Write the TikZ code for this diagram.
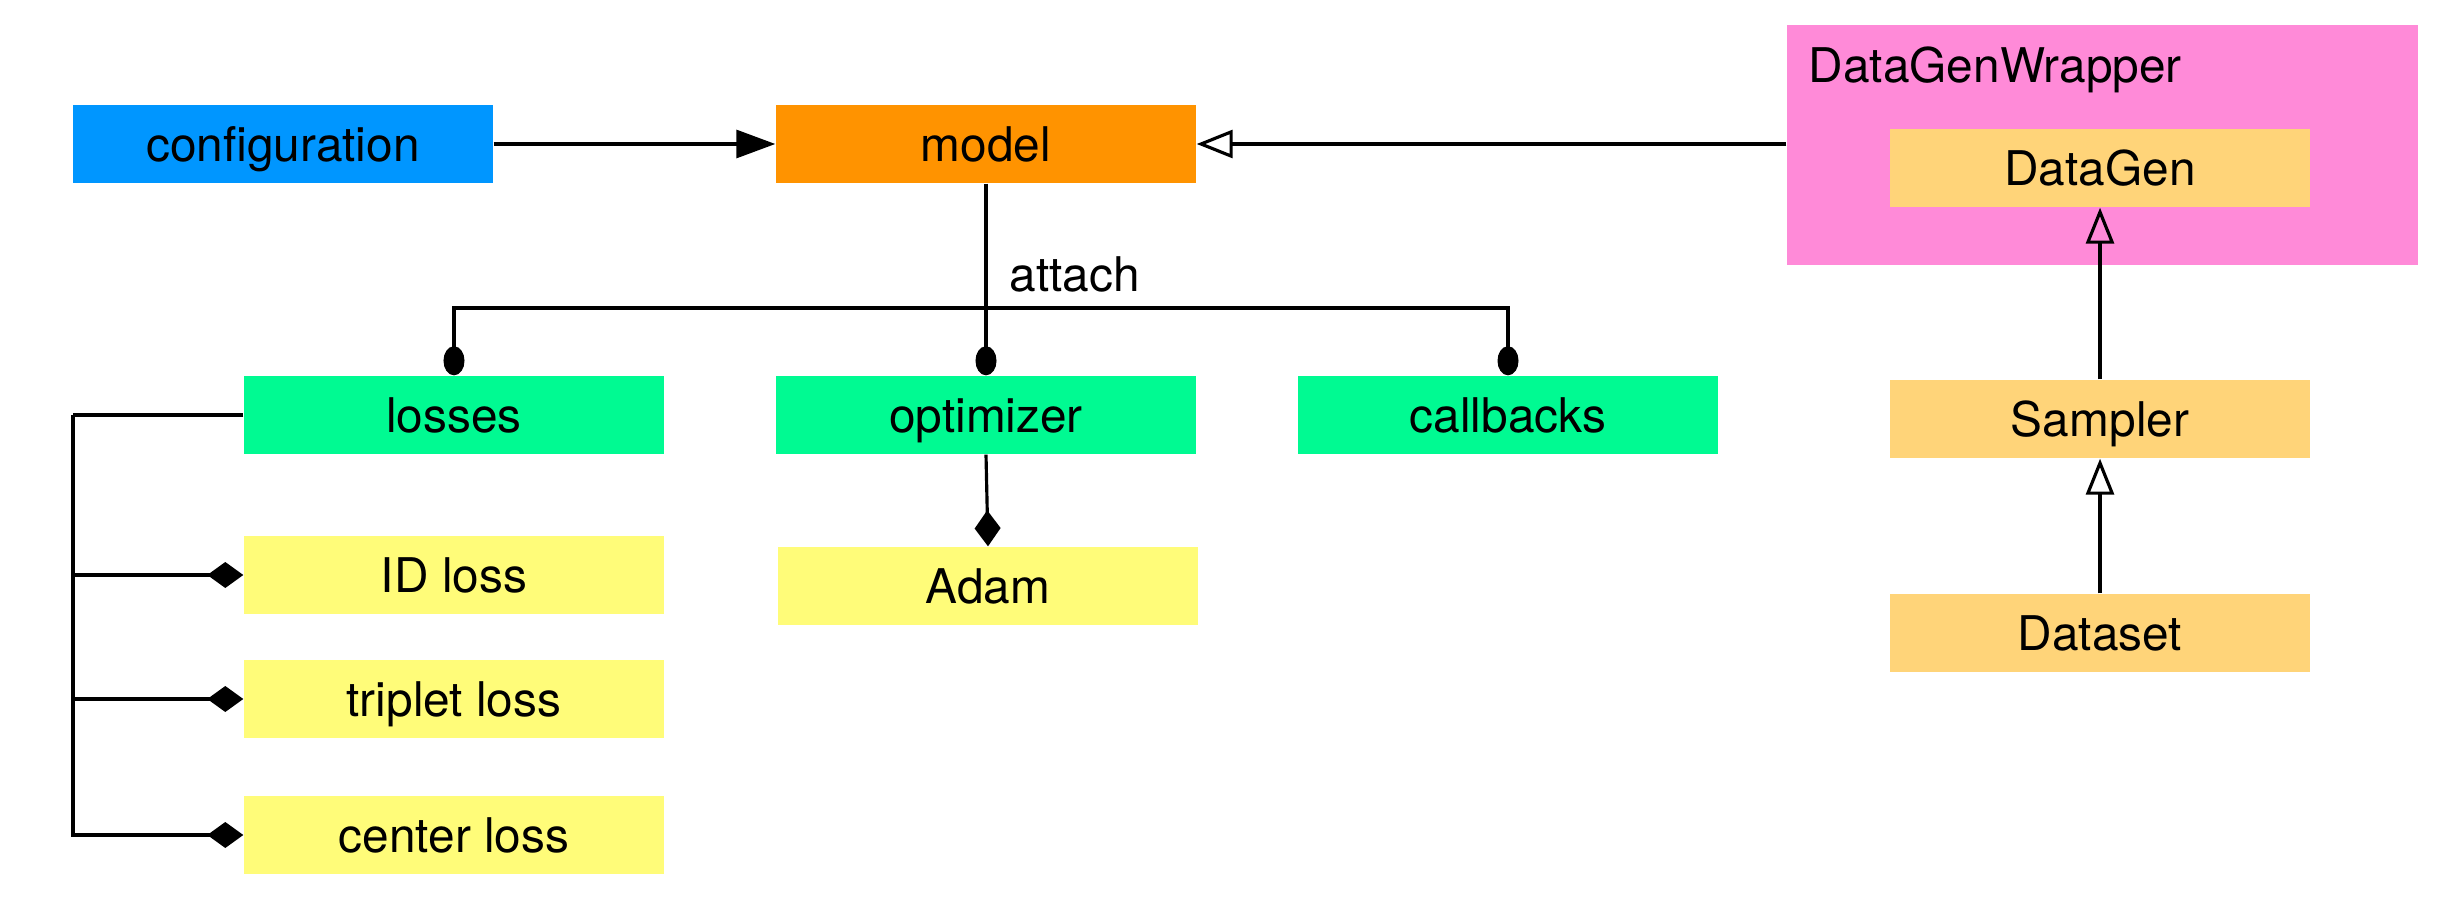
\documentclass[tikz,border=0pt]{standalone}
\usepackage{fontspec}
\setmainfont{TeX Gyre Heros}
\usepackage{tikz}
\usetikzlibrary{positioning}
\usetikzlibrary{arrows.meta}
\usepackage{xcolor}
\definecolor{aqua}{HTML}{0096FF}
\definecolor{tangerine}{HTML}{FF9300}
\definecolor{seafoam}{HTML}{00FA92}
\definecolor{banana}{HTML}{FFFC79}
\definecolor{cantaloupe}{HTML}{FFD479}
\definecolor{carnation}{HTML}{FF8AD8}
\tikzset{
  box/.style={minimum width=4.2cm, minimum height=0.78cm, inner sep=0pt, text height=9.8pt, text depth=0pt, font=\fontsize{13.6}{16}\selectfont},
  link/.style={black, line width=0.9pt},
  uses/.style={link, -{Triangle[length=3.9mm,width=2.8mm]}},
  inherit/.style={link, -{Triangle[open,length=3.6mm,width=2.8mm]}},
  composed/.style={link, -{Diamond[length=3.6mm,width=2.6mm]}},
  attached/.style={link, {Ellipse[length=2.9mm,width=2.1mm]}-{Ellipse[length=2.9mm,width=2.1mm]}},
}

\begin{document}
\begin{tikzpicture}
  \useasboundingbox (0,0) rectangle (24.48,-9.04);

  \node[box, fill=aqua] (configuration) at (2.83,-1.44) {configuration};
  \node[box, fill=tangerine] (model) at (9.86,-1.44) {model};

  \node[fill=carnation, minimum width=6.31cm, minimum height=2.40cm, inner sep=0pt] (wrapper) at (21.025,-1.45) {};
  \node[anchor=west, inner sep=0pt, font=\fontsize{13.6}{16}\selectfont] (wrappername) at (18.08,-0.70) {DataGenWrapper};
  \node[box, fill=cantaloupe] (datagen) at (21.0,-1.68) {DataGen};
  \node[box, fill=cantaloupe] (sampler) at (21.0,-4.19) {Sampler};
  \node[box, fill=cantaloupe] (dataset) at (21.0,-6.33) {Dataset};

  \node[box, fill=seafoam] (losses) at (4.54,-4.15) {losses};
  \node[box, fill=seafoam] (optimizer) at (9.86,-4.15) {optimizer};
  \node[box, fill=seafoam] (callbacks) at (15.08,-4.15) {callbacks};

  \node[box, fill=banana] (idloss) at (4.54,-5.75) {ID loss};
  \node[box, fill=banana] (tripletloss) at (4.54,-6.99) {triplet loss};
  \node[box, fill=banana] (centerloss) at (4.54,-8.35) {center loss};
  \node[box, fill=banana] (adam) at (9.88,-5.86) {Adam};

  \draw[uses] (configuration) -- (model);
  \draw[inherit] (wrapper.west |- model.east) -- (model.east);
  \draw[inherit] (sampler) -- (datagen);
  \draw[inherit] (dataset) -- (sampler);

  \coordinate (attach) at (9.86,-3.08);
  \draw[link, -{Ellipse[length=2.9mm,width=2.1mm]}] (model.south) -- (optimizer.north);
  \draw[attached] (losses.north) |- (attach) -| (callbacks.north);
  \node[anchor=base west, inner sep=0pt, font=\fontsize{13.6}{16}\selectfont] (attachlabel) at (10.09,-2.92) {attach};

  \coordinate (rail) at (0.73,-4.15);
  \draw[link] (losses.west) -- (rail);
  \draw[composed] (rail) |- (centerloss.west);
  \draw[composed] (rail |- idloss.west) -- (idloss.west);
  \draw[composed] (rail |- tripletloss.west) -- (tripletloss.west);
  \draw[composed] (optimizer.south) -- (adam.north);
\end{tikzpicture}
\end{document}
